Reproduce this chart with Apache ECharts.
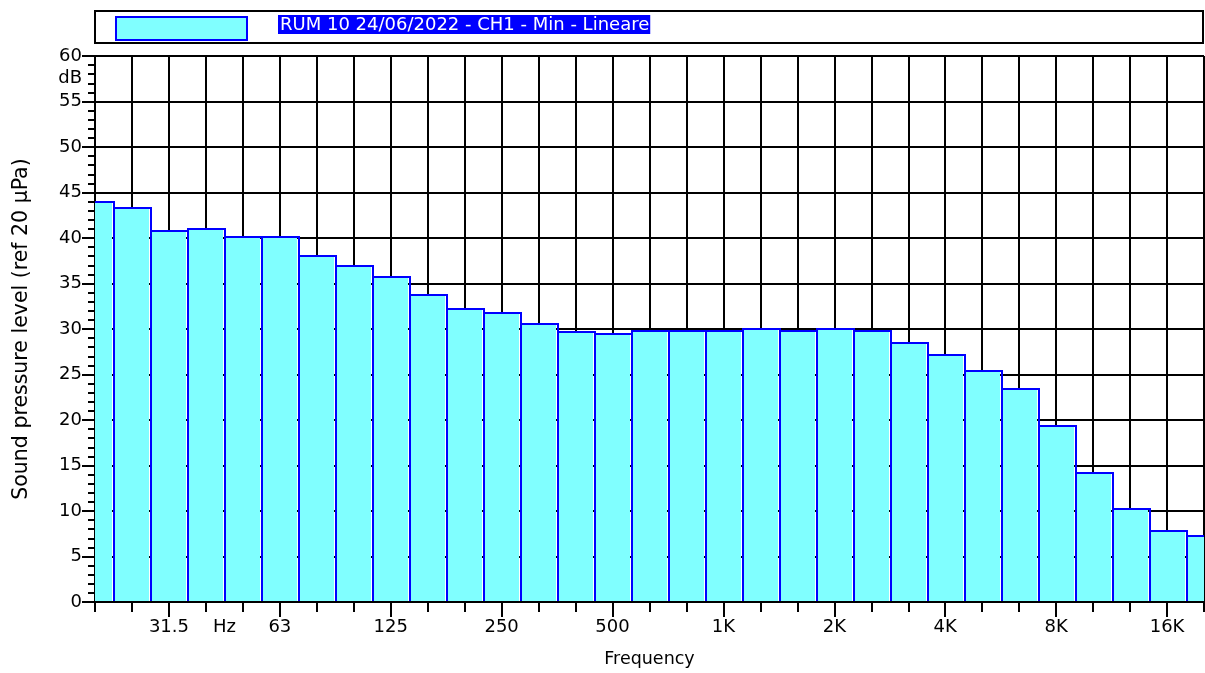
<!DOCTYPE html>
<html><head><meta charset="utf-8">
<script src="https://cdn.jsdelivr.net/npm/echarts@6/dist/echarts.min.js"></script>
<style>html,body{margin:0;padding:0;background:#fff}#c{width:1205px;height:673px}</style>
</head><body><div id="c"></div>
<script>
// 1/3-octave bands (centre frequencies)
const bandLabels = ['20','25','31.5','40','50','63','80','100','125','160','200','250','315','400','500','630','800','1K','1.25K','1.6K','2K','2.5K','3.15K','4K','5K','6.3K','8K','10K','12.5K','16K','20K'];
// Min level per band, dB (ref 20 µPa)
const levels = [44.0, 43.3, 40.8, 41.0, 40.1, 40.1, 38.0, 36.9, 35.7, 33.7, 32.2, 31.8, 30.5, 29.7, 29.5, 29.8, 29.8, 29.8, 30.0, 29.8, 30.0, 29.8, 28.5, 27.1, 25.4, 23.4, 19.3, 14.2, 10.2, 7.8, 7.3];
// Labelled x ticks
const tickLabels = ['31.5','63','125','250','500','1K','2K','4K','8K','16K'];
const unitLabel = 'Hz';
const unitPosition = 3.5;      // between the 40 and 50 Hz bands
const yUnitLabel = 'dB';
const yUnitPosition = 57.5;
const seriesName = 'RUM 10 24/06/2022 - CH1 - Min - Lineare';
const xTitle = 'Frequency';
const yTitle = 'Sound pressure level (ref 20 µPa)';

const FONT = 'DejaVu Sans';
const TXT = '#000';
const majorIdx = tickLabels.map(t => bandLabels.indexOf(t));
const allIdx = bandLabels.map((_, i) => i);
const labelAt = {};
majorIdx.forEach((i, k) => { labelAt[i] = tickLabels[k]; });
const xMax = bandLabels.length - 1;

const chart = echarts.init(document.getElementById('c'), null, {renderer: 'canvas'});
const option = {
  animation: false,
  backgroundColor: '#fff',
  grid: {left: 95, right: 1, top: 56, bottom: 67, containLabel: false},
  legend: {
    left: 115, top: 15, padding: 0, itemWidth: 131, itemHeight: 23, icon: 'rect', selectedMode: false,
    itemStyle: {color: '#80FFFF', borderColor: '#0000FF', borderWidth: 2},
    formatter: n => '{a|' + n + '}',
    textStyle: {padding: [0, 0, 8, 26], rich: {a: {backgroundColor: '#0000FF', color: '#fff', fontFamily: FONT, fontSize: 18, padding: [1, 1, 0, 2], lineHeight: 20}}}
  },
  xAxis: [
    {
      type: 'value', min: 0, max: xMax, interval: 1, position: 'bottom',
      axisLine: {lineStyle: {color: '#000', width: 2}},
      axisTick: {customValues: allIdx, length: 10, lineStyle: {color: '#000', width: 2}},
      axisLabel: {customValues: majorIdx, formatter: v => labelAt[v] || '', margin: 16, fontFamily: FONT, fontSize: 18, color: TXT},
      splitLine: {show: true, lineStyle: {color: '#000', width: 2}},
      name: xTitle, nameLocation: 'middle', nameGap: 48,
      nameTextStyle: {fontFamily: FONT, fontSize: 17.5, color: TXT}
    },
    {
      type: 'value', min: 0, max: xMax, position: 'bottom',
      axisLine: {show: false},
      axisTick: {customValues: majorIdx, length: 15, lineStyle: {color: '#000', width: 2}},
      axisLabel: {customValues: [unitPosition], formatter: () => unitLabel, margin: 16, fontFamily: FONT, fontSize: 18, color: TXT},
      splitLine: {show: false}
    }
  ],
  yAxis: [
    {
      type: 'value', min: 0, max: 60, interval: 5, position: 'left',
      axisLine: {show: true, lineStyle: {color: '#000', width: 2}},
      axisTick: {show: true, length: 13, lineStyle: {color: '#000', width: 2}},
      minorTick: {show: true, splitNumber: 5, length: 7, lineStyle: {color: '#000', width: 2}},
      axisLabel: {margin: 13, fontFamily: FONT, fontSize: 18, color: TXT},
      splitLine: {show: true, lineStyle: {color: '#000', width: 2}},
      name: yTitle, nameLocation: 'middle', nameGap: 63,
      nameTextStyle: {fontFamily: FONT, fontSize: 20.5, color: TXT}
    },
    {
      type: 'value', min: 0, max: 60, position: 'left',
      axisLine: {show: false}, axisTick: {show: false}, splitLine: {show: false},
      axisLabel: {customValues: [yUnitPosition], formatter: () => yUnitLabel, margin: 13, fontFamily: FONT, fontSize: 18, color: TXT}
    }
  ],
  series: [{
    type: 'custom', name: seriesName, clip: true,
    xAxisIndex: 0, yAxisIndex: 0,
    itemStyle: {color: '#80FFFF', borderColor: '#0000FF', borderWidth: 2},
    data: levels.map((v, i) => [i, v]),
    encode: {x: 0, y: 1},
    renderItem(params, api) {
      const i = api.value(0), v = api.value(1);
      const tl = api.coord([i - 0.5, v]);
      const br = api.coord([i + 0.5, 0]);
      const L = Math.round(tl[0]), R = Math.round(br[0]);
      const T = Math.round(tl[1]), B = Math.round(br[1]) - 1;
      return {
        type: 'group',
        children: [
          {type: 'rect', shape: {x: L + 2, y: T, width: R - L - 3, height: B - T}, style: {fill: '#80FFFF'}},
          {type: 'polyline', shape: {points: [[L + 1, B], [L + 1, T], [R + 1, T], [R + 1, B]]}, style: {fill: null, stroke: '#0000FF', lineWidth: 2}}
        ]
      };
    }
  }]
};
chart.setOption(option);
// legend frame spanning the plot width
const x0 = chart.convertToPixel({xAxisIndex: 0}, 0);
const x1 = chart.convertToPixel({xAxisIndex: 0}, xMax);
chart.setOption({graphic: [{type: 'rect', shape: {x: x0, y: 11, width: x1 - x0 - 1, height: 32}, style: {fill: null, stroke: '#000', lineWidth: 2}}]});
</script>
</body></html>
